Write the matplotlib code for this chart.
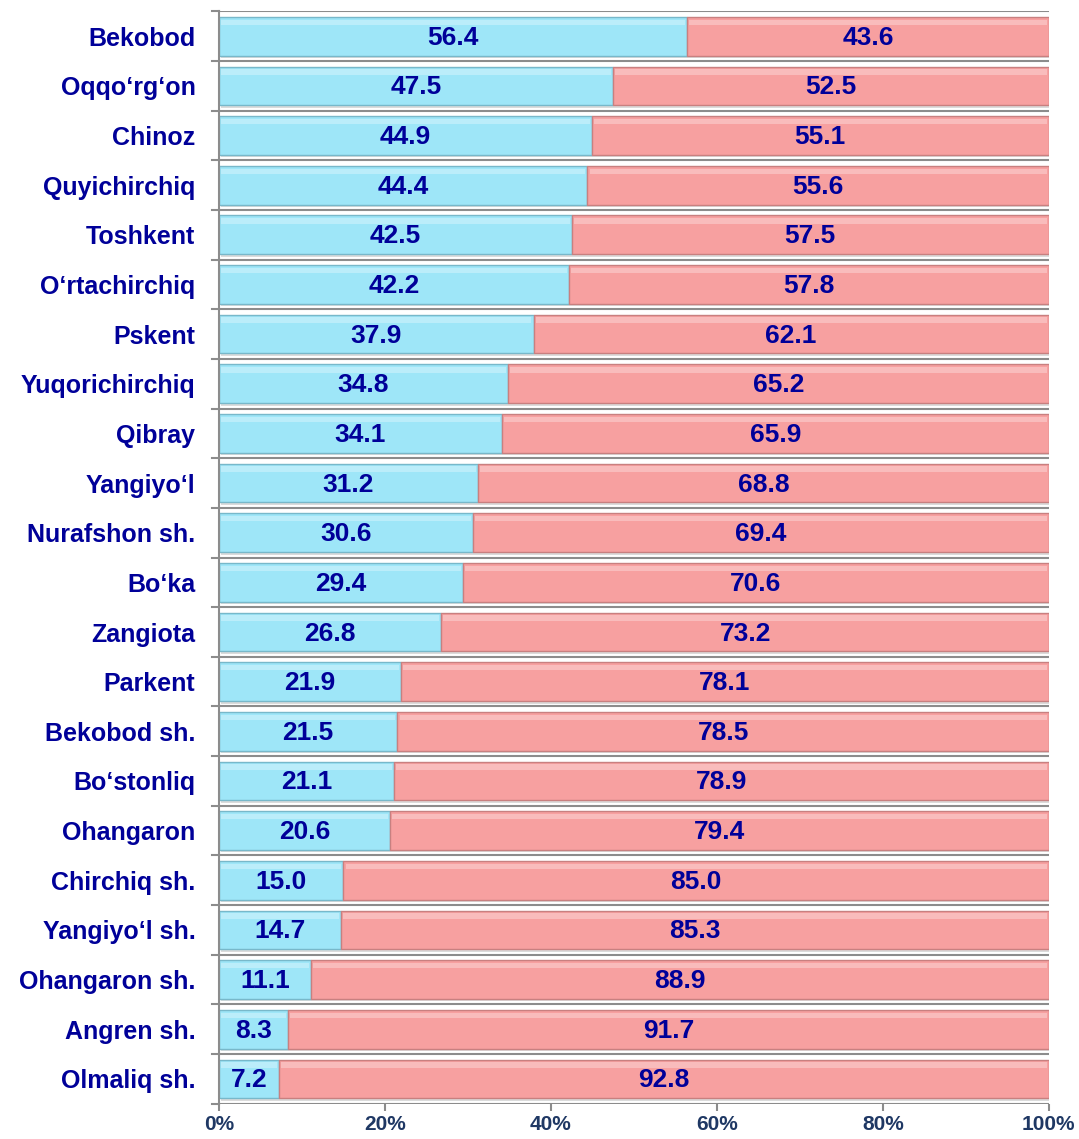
import numpy as np
import matplotlib
matplotlib.use('Agg')
from matplotlib import pyplot as plt

plt.rcParams['font.family'] = ['Liberation Sans', 'DejaVu Sans']

districts = ['Bekobod', 'Oqqo‘rg‘on', 'Chinoz', 'Quyichirchiq', 'Toshkent',
             'O‘rtachirchiq', 'Pskent', 'Yuqorichirchiq', 'Qibray', 'Yangiyo‘l',
             'Nurafshon sh.', 'Bo‘ka', 'Zangiota', 'Parkent', 'Bekobod sh.',
             'Bo‘stonliq', 'Ohangaron', 'Chirchiq sh.', 'Yangiyo‘l sh.',
             'Ohangaron sh.', 'Angren sh.', 'Olmaliq sh.']
share_a = [56.4, 47.5, 44.9, 44.4, 42.5, 42.2, 37.9, 34.8, 34.1, 31.2, 30.6,
           29.4, 26.8, 21.9, 21.5, 21.1, 20.6, 15.0, 14.7, 11.1, 8.3, 7.2]
share_b = [43.6, 52.5, 55.1, 55.6, 57.5, 57.8, 62.1, 65.2, 65.9, 68.8, 69.4,
           70.6, 73.2, 78.1, 78.5, 78.9, 79.4, 85.0, 85.3, 88.9, 91.7, 92.8]
xticks = [0, 20, 40, 60, 80, 100]
xlabels = ['0%', '20%', '40%', '60%', '80%', '100%']

blue = '#9EE6F8'
red = '#F7A0A0'
navy = '#000099'

fig = plt.figure(figsize=(10.79, 11.39), dpi=100)
ax = fig.add_axes([0.203, 0.031, 0.769, 0.959])

y = np.arange(len(districts))[::-1]
a = np.array(share_a)
b = np.array(share_b)
h = 0.78

# soft shadow under the bars
ax.barh(y - 0.05, a + b, left=0.25, height=h, color='#999999', alpha=0.35, zorder=1)
ax.barh(y, a, height=h, color=blue, edgecolor='#78B8CA', linewidth=1, zorder=2)
ax.barh(y, b, left=a, height=h, color=red, edgecolor='#C88080', linewidth=1, zorder=2)
# light bevel at the top of each bar
ax.barh(y + h * 0.36, a - 0.5, left=0.25, height=h * 0.14, color='white', alpha=0.3,
        linewidth=0, zorder=3)
ax.barh(y + h * 0.36, b - 0.5, left=a + 0.25, height=h * 0.14, color='white', alpha=0.3,
        linewidth=0, zorder=3)

for yi, va, vb in zip(y, a, b):
    ax.text(va / 2, yi - 0.03, f'{va:.1f}', ha='center', va='center', color=navy,
            fontsize=19, fontweight='bold', zorder=4)
    ax.text(va + vb / 2, yi - 0.03, f'{vb:.1f}', ha='center', va='center', color=navy,
            fontsize=19, fontweight='bold', zorder=4)

n = len(districts)
ax.set_ylim(-0.5, n - 0.5)
ax.set_xlim(0, 100)
ax.set_yticks(y)
ax.set_yticklabels(districts, fontsize=18, fontweight='bold', color=navy)
ax.tick_params(axis='y', length=0, pad=17)
# boundaries between categories
bounds = np.arange(n + 1) - 0.5
for yb in bounds:
    ax.axhline(yb, color='#8C8C8C', linewidth=1.5, zorder=0)
    ax.plot([-0.9, 0], [yb, yb], color='#8C8C8C', linewidth=1.5, clip_on=False)

ax.set_xticks(xticks)
ax.set_xticklabels(xlabels, fontsize=15, fontweight='bold', color='#1F3864')
ax.tick_params(axis='x', length=5, width=1.5, color='#8C8C8C', pad=3)

for s in ['top', 'right', 'bottom']:
    ax.spines[s].set_visible(False)
ax.spines['left'].set_color('#8C8C8C')
ax.spines['left'].set_linewidth(1.5)

fig.savefig('out.png', dpi=100)
